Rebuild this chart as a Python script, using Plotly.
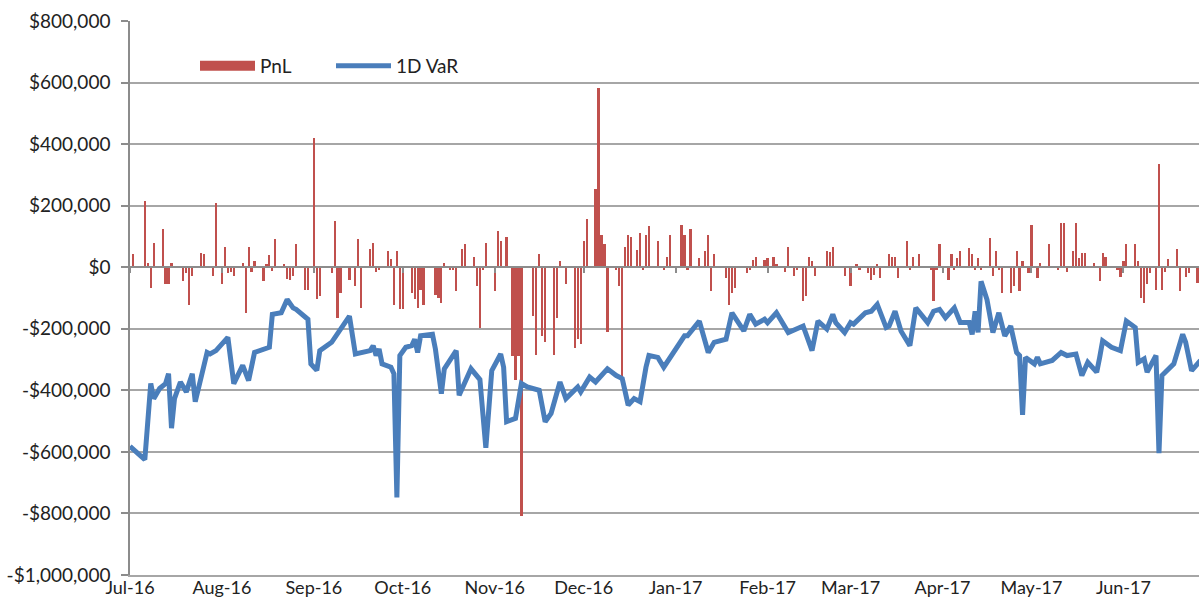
import pandas as pd
import plotly.graph_objects as go

# ---------------- data (values in $ thousands) ----------------
var_dates = [
    "2016-07-01", "2016-07-06", "2016-07-08", "2016-07-09", "2016-07-11", "2016-07-13", "2016-07-14",
    "2016-07-15", "2016-07-16", "2016-07-18", "2016-07-20", "2016-07-22", "2016-07-23", "2016-07-27",
    "2016-07-28", "2016-07-30", "2016-08-03", "2016-08-05", "2016-08-08", "2016-08-10", "2016-08-12",
    "2016-08-17", "2016-08-18", "2016-08-21", "2016-08-23", "2016-08-25", "2016-08-26", "2016-08-30",
    "2016-08-31", "2016-09-02", "2016-09-03", "2016-09-07", "2016-09-13", "2016-09-15", "2016-09-20",
    "2016-09-21", "2016-09-22", "2016-09-23", "2016-09-24", "2016-09-27", "2016-09-28", "2016-09-29",
    "2016-09-30", "2016-10-02", "2016-10-04", "2016-10-05", "2016-10-06", "2016-10-07", "2016-10-11",
    "2016-10-12", "2016-10-14", "2016-10-15", "2016-10-19", "2016-10-20", "2016-10-24", "2016-10-27",
    "2016-10-29", "2016-10-31", "2016-11-03", "2016-11-04", "2016-11-05", "2016-11-08", "2016-11-10",
    "2016-11-12", "2016-11-16", "2016-11-18", "2016-11-20", "2016-11-23", "2016-11-25", "2016-11-29",
    "2016-11-30", "2016-12-03", "2016-12-05", "2016-12-09", "2016-12-12", "2016-12-14", "2016-12-15",
    "2016-12-16", "2016-12-18", "2016-12-20", "2016-12-22", "2016-12-23", "2016-12-26", "2016-12-28",
    "2017-01-04", "2017-01-05", "2017-01-09", "2017-01-12", "2017-01-14", "2017-01-18", "2017-01-20",
    "2017-01-24", "2017-01-26", "2017-01-28", "2017-01-31", "2017-02-01", "2017-02-04", "2017-02-08",
    "2017-02-13", "2017-02-16", "2017-02-18", "2017-02-21", "2017-02-23", "2017-02-24", "2017-02-27",
    "2017-03-01", "2017-03-02", "2017-03-06", "2017-03-08", "2017-03-10", "2017-03-13", "2017-03-14",
    "2017-03-16", "2017-03-18", "2017-03-21", "2017-03-23", "2017-03-27", "2017-03-28", "2017-03-29",
    "2017-03-31", "2017-04-02", "2017-04-05", "2017-04-07", "2017-04-10", "2017-04-11", "2017-04-12",
    "2017-04-13", "2017-04-14", "2017-04-16", "2017-04-18", "2017-04-20", "2017-04-22", "2017-04-24",
    "2017-04-26", "2017-04-27", "2017-04-28", "2017-04-29", "2017-05-02", "2017-05-03", "2017-05-04",
    "2017-05-08", "2017-05-11", "2017-05-13", "2017-05-16", "2017-05-18", "2017-05-20", "2017-05-23",
    "2017-05-24", "2017-05-25", "2017-05-28", "2017-05-31", "2017-06-02", "2017-06-05", "2017-06-06",
    "2017-06-08", "2017-06-09", "2017-06-12", "2017-06-13", "2017-06-14", "2017-06-18", "2017-06-21",
    "2017-06-22", "2017-06-24", "2017-06-27",
]
var_k = [
    -582, -625, -378, -427, -394, -378, -346,
    -523, -427, -373, -405, -346, -437, -277,
    -282, -271, -228, -378, -319, -368, -277,
    -260, -153, -148, -105, -132, -137, -169,
    -314, -335, -271, -244, -159, -282, -271,
    -255, -287, -266, -314, -325, -346, -748,
    -287, -260, -255, -234, -277, -223, -218,
    -266, -411, -330, -271, -416, -330, -365,
    -587, -336, -282, -325, -502, -491, -378,
    -389, -400, -502, -475, -373, -427, -389,
    -405, -357, -373, -330, -352, -362, -405,
    -448, -427, -437, -325, -287, -293, -325,
    -223, -223, -175, -277, -244, -234, -148,
    -207, -153, -185, -169, -180, -148, -212,
    -191, -271, -175, -201, -153, -180, -212,
    -180, -185, -148, -143, -121, -196, -191,
    -143, -207, -255, -132, -180, -159, -143,
    -137, -164, -132, -180, -180, -218, -143,
    -212, -46, -105, -212, -148, -223, -191,
    -277, -287, -480, -293, -314, -293, -314,
    -303, -277, -287, -282, -352, -309, -341,
    -293, -239, -260, -271, -175, -196, -309,
    -298, -341, -287, -604, -352, -314, -218,
    -244, -336, -303,
]

pnl_dates = [
    "2016-07-02", "2016-07-06", "2016-07-07", "2016-07-08", "2016-07-09", "2016-07-12", "2016-07-13",
    "2016-07-14", "2016-07-15", "2016-07-19", "2016-07-20", "2016-07-21", "2016-07-22", "2016-07-25",
    "2016-07-26", "2016-07-29", "2016-07-30", "2016-08-01", "2016-08-02", "2016-08-03", "2016-08-04",
    "2016-08-05", "2016-08-08", "2016-08-09", "2016-08-10", "2016-08-11", "2016-08-12", "2016-08-15",
    "2016-08-16", "2016-08-17", "2016-08-18", "2016-08-19", "2016-08-22", "2016-08-23", "2016-08-24",
    "2016-08-25", "2016-08-26", "2016-08-29", "2016-08-30", "2016-09-01", "2016-09-02", "2016-09-03",
    "2016-09-07", "2016-09-08", "2016-09-09", "2016-09-10", "2016-09-13", "2016-09-15", "2016-09-16",
    "2016-09-17", "2016-09-20", "2016-09-21", "2016-09-22", "2016-09-23", "2016-09-26", "2016-09-27",
    "2016-09-28", "2016-09-29", "2016-09-30", "2016-10-01", "2016-10-04", "2016-10-05", "2016-10-06",
    "2016-10-07", "2016-10-08", "2016-10-12", "2016-10-13", "2016-10-14", "2016-10-15", "2016-10-17",
    "2016-10-18", "2016-10-19", "2016-10-21", "2016-10-22", "2016-10-25", "2016-10-26", "2016-10-27",
    "2016-10-28", "2016-10-29", "2016-11-01", "2016-11-02", "2016-11-03", "2016-11-05", "2016-11-07",
    "2016-11-08", "2016-11-09", "2016-11-10", "2016-11-14", "2016-11-15", "2016-11-16", "2016-11-17",
    "2016-11-18", "2016-11-21", "2016-11-22", "2016-11-23", "2016-11-25", "2016-11-28", "2016-11-29",
    "2016-11-30", "2016-12-01", "2016-12-02", "2016-12-05", "2016-12-06", "2016-12-07", "2016-12-08",
    "2016-12-09", "2016-12-12", "2016-12-13", "2016-12-14", "2016-12-15", "2016-12-16", "2016-12-17",
    "2016-12-19", "2016-12-20", "2016-12-21", "2016-12-22", "2016-12-23", "2016-12-26", "2016-12-28",
    "2016-12-29", "2016-12-30", "2017-01-03", "2017-01-04", "2017-01-05", "2017-01-06", "2017-01-09",
    "2017-01-11", "2017-01-12", "2017-01-13", "2017-01-14", "2017-01-18", "2017-01-19", "2017-01-20",
    "2017-01-21", "2017-01-25", "2017-01-26", "2017-01-27", "2017-01-28", "2017-01-31", "2017-02-01",
    "2017-02-03", "2017-02-04", "2017-02-07", "2017-02-08", "2017-02-10", "2017-02-11", "2017-02-13",
    "2017-02-14", "2017-02-15", "2017-02-16", "2017-02-17", "2017-02-21", "2017-02-22", "2017-02-23",
    "2017-02-27", "2017-03-01", "2017-03-03", "2017-03-04", "2017-03-07", "2017-03-08", "2017-03-09",
    "2017-03-10", "2017-03-11", "2017-03-14", "2017-03-15", "2017-03-16", "2017-03-17", "2017-03-20",
    "2017-03-21", "2017-03-22", "2017-03-24", "2017-03-28", "2017-03-29", "2017-03-30", "2017-03-31",
    "2017-04-03", "2017-04-04", "2017-04-05", "2017-04-06", "2017-04-07", "2017-04-10", "2017-04-11",
    "2017-04-12", "2017-04-13", "2017-04-14", "2017-04-17", "2017-04-18", "2017-04-19", "2017-04-20",
    "2017-04-21", "2017-04-24", "2017-04-25", "2017-04-26", "2017-04-27", "2017-04-28", "2017-04-30",
    "2017-05-01", "2017-05-03", "2017-05-04", "2017-05-07", "2017-05-10", "2017-05-11", "2017-05-12",
    "2017-05-13", "2017-05-15", "2017-05-16", "2017-05-17", "2017-05-18", "2017-05-19", "2017-05-22",
    "2017-05-24", "2017-05-25", "2017-05-26", "2017-05-30", "2017-05-31", "2017-06-01", "2017-06-02",
    "2017-06-05", "2017-06-06", "2017-06-07", "2017-06-08", "2017-06-09", "2017-06-10", "2017-06-12",
    "2017-06-13", "2017-06-14", "2017-06-15", "2017-06-16", "2017-06-19", "2017-06-20", "2017-06-22",
    "2017-06-23", "2017-06-26",
]
pnl_k = [
    42, 214, 15, -68, 79, 124, -54,
    -54, 15, -46, -19, -124, -28, 47,
    42, -28, 208, -54, 66, -19, -15,
    -28, 15, -150, 66, -15, 21, -46,
    11, 40, -11, 92, 11, -39, -41,
    -28, 74, -73, -73, 420, -103, -95,
    -19, 150, -164, -84, -41, -60, 92,
    -132, 58, 79, -15, -9, 54, 28,
    -124, 54, -137, -137, -84, -103, -132,
    -73, -124, -89, -100, -116, 15, -9,
    -9, -78, 58, 74, 34, -62, -196,
    -9, 79, -78, 118, 86, 99, -290,
    -368, -290, -807, -159, -285, 42, -223,
    -242, -285, -164, 21, -54, -264, -234,
    -248, 86, 158, 254, 583, 106, 74,
    -210, -9, -62, -357, 66, 106, 99,
    56, 111, -9, 106, 133, 86, -9,
    34, 106, 138, 106, -9, 125, 29,
    54, 106, -78, 42, -35, -124, -84,
    -68, -19, -9, 24, 34, 24, 29,
    34, 11, -15, 66, -28, -9, -110,
    -94, 34, 21, -28, 54, 50, 66,
    -28, -60, 11, -9, -19, -41, -25,
    11, -35, 42, 34, 34, -35, 86,
    -9, 34, 42, -9, -110, -9, 74,
    -41, 42, -9, 29, 54, 62, 42,
    -9, 29, -9, 94, -28, 54, -9,
    -84, -84, -62, 54, -78, 21, -19,
    138, -35, 15, 74, -9, 144, 144,
    -15, 54, 144, 29, 47, 47, 15,
    -46, 47, 34, -9, -32, 21, 74,
    74, 21, -100, -116, -54, -19, -73,
    337, -73, -15, 27, 59, -78, -32,
    -19, -51,
]

y_tick_values = [800000, 600000, 400000, 200000, 0, -200000, -400000, -600000, -800000, -1000000]
y_tick_labels = ["$800,000", "$600,000", "$400,000", "$200,000", "$0", "-$200,000",
                 "-$400,000", "-$600,000", "-$800,000", "-$1,000,000"]
x_tick_dates = ["2016-07-01", "2016-08-01", "2016-09-01", "2016-10-01", "2016-11-01", "2016-12-01",
                "2017-01-01", "2017-02-01", "2017-03-01", "2017-04-01", "2017-05-01", "2017-06-01"]
x_tick_labels = ["Jul-16", "Aug-16", "Sep-16", "Oct-16", "Nov-16", "Dec-16",
                 "Jan-17", "Feb-17", "Mar-17", "Apr-17", "May-17", "Jun-17"]
x_range = ["2016-07-01", "2017-06-26 12:00"]
y_range = [-1000000, 800000]

# ---------------- styling ----------------
RED = "#C0504D"
BLUE = "#4A7EBB"
GRID = "#A6A6A6"
AXIS = "#8C8C8C"
TXT = "#222222"
FONT = dict(family="Lato, 'Noto Sans', sans-serif", size=19, color=TXT)
XFONT = dict(family="Lato, 'Noto Sans', sans-serif", size=18, color=TXT)
DAY_MS = 86400000

pnl = [v * 1000 for v in pnl_k]
var = [v * 1000 for v in var_k]
zero_pos = (0 - y_range[0]) / (y_range[1] - y_range[0])

fig = go.Figure()
fig.add_trace(go.Bar(
    x=pd.to_datetime(pnl_dates), y=pnl, name="PnL", marker=dict(color=RED, line=dict(width=0)),
    width=0.75 * DAY_MS, showlegend=False, xaxis="x", yaxis="y",
))
fig.add_trace(go.Scatter(
    x=[None], y=[None], mode="lines", name="PnL", line=dict(color=RED, width=11),
    xaxis="x", yaxis="y",
))
fig.add_trace(go.Scatter(
    x=pd.to_datetime(var_dates), y=var, mode="lines", name="1D VaR",
    line=dict(color=BLUE, width=5), xaxis="x2", yaxis="y",
))

fig.update_layout(
    width=1199, height=602,
    margin=dict(l=130, r=0, t=21, b=27, autoexpand=False),
    paper_bgcolor="white", plot_bgcolor="white",
    font=FONT,
    bargap=0,
    showlegend=True,
    legend=dict(
        orientation="h", x=(195 - 130) / 1069, y=(575 - 66) / 554,
        xanchor="left", yanchor="middle", bgcolor="rgba(0,0,0,0)",
        font=FONT, itemwidth=55, entrywidth=66, entrywidthmode="pixels",
        itemclick=False, itemdoubleclick=False,
    ),
    xaxis=dict(
        type="date", range=x_range, tickvals=x_tick_dates, ticktext=x_tick_labels,
        showgrid=False, showline=True, linecolor=GRID, linewidth=1.5, ticks="",
        zeroline=False, tickfont=XFONT, automargin=False, ticklabelstandoff=-4,
    ),
    xaxis2=dict(
        type="date", range=x_range, overlaying="x", anchor="free", position=zero_pos,
        side="bottom", tickvals=x_tick_dates, showticklabels=False, showgrid=False,
        showline=True, linecolor=AXIS, linewidth=1.5, ticks="outside", ticklen=5,
        tickcolor=AXIS, tickwidth=1.5, zeroline=False, automargin=False,
    ),
    yaxis=dict(
        range=y_range, tickvals=y_tick_values, ticktext=y_tick_labels,
        showgrid=True, gridcolor=GRID, gridwidth=1.5, zeroline=False,
        showline=True, linecolor=AXIS, linewidth=1.5, ticks="outside", ticklen=7,
        tickcolor=AXIS, tickwidth=1.5, ticklabelstandoff=7, tickfont=FONT, automargin=False,
    ),
)

fig.write_html(
    "out.html",
    config={"displayModeBar": False},
    post_script="document.body.style.margin='0';document.body.style.padding='0';",
)
